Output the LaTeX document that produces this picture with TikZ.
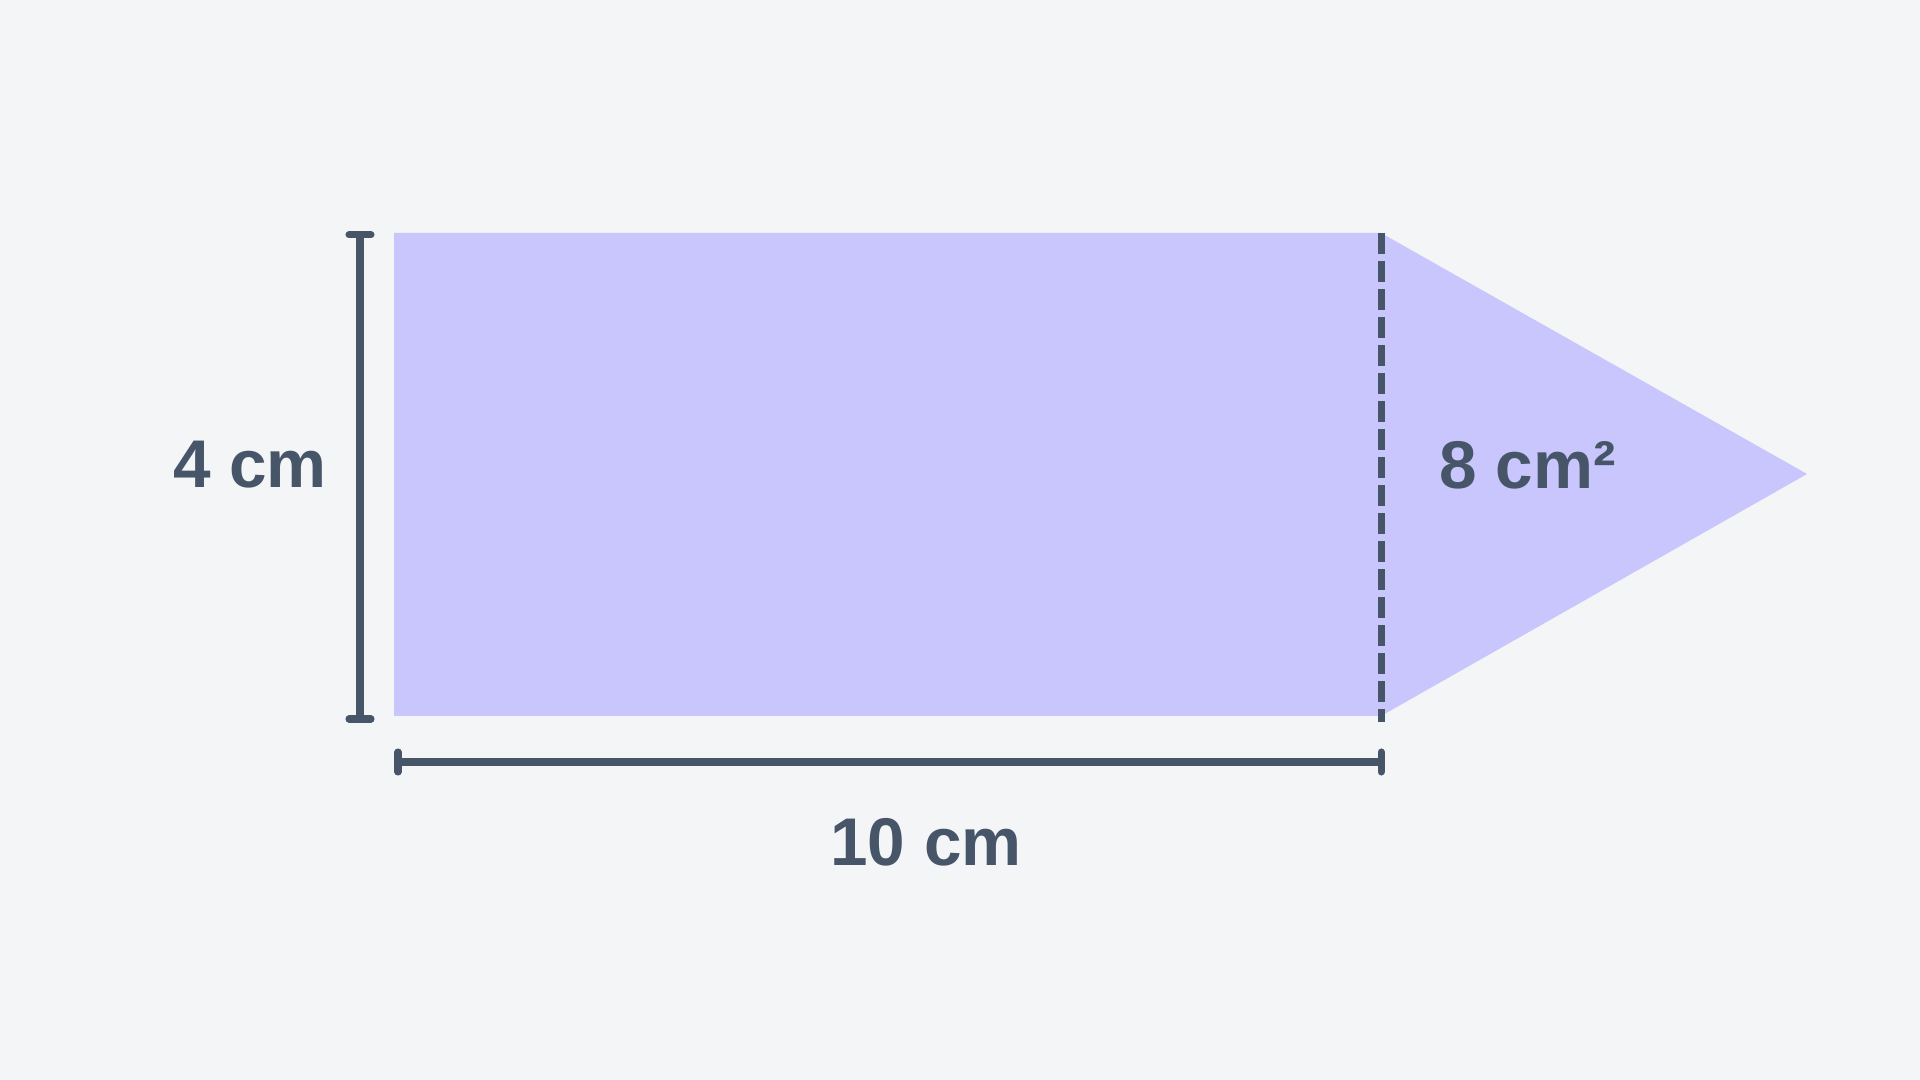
\documentclass[tikz,border=0pt]{standalone}
\usepackage{fontspec}
\setmainfont{Liberation Sans}
\usepackage{tikz}
\definecolor{paleback}{HTML}{F3F5F7}
\definecolor{lavender}{HTML}{C8C6FC}
\definecolor{slatedark}{HTML}{475569}
\tikzset{
    dimline/.style={slatedark,line width=2pt,line cap=round},
    dimlabel/.style={text=slatedark,font=\fontsize{19.2}{23}\selectfont\bfseries,inner sep=0pt}
}

\begin{document}
\begin{tikzpicture}
        \fill[paleback] (0,0) rectangle (19.2,10.8);
        \useasboundingbox (0,0) rectangle (19.2,10.8);

        % corners of the shape
        \coordinate (tl) at (3.94,8.47);
        \coordinate (bl) at (3.94,3.64);
        \coordinate (tr) at (13.81,8.47);
        \coordinate (br) at (13.81,3.64);
        \coordinate (tip) at (18.07,6.06);

        \fill[lavender] (tl) -- (tr) -- (tip) -- (br) -- (bl) -- cycle;
        \draw[slatedark,line width=2pt,dash pattern=on 0.21cm off 0.07cm] (tr) -- (13.81,3.58);

        % height
        \coordinate (vt) at (3.60,8.45);
        \coordinate (vb) at (3.60,3.61);
        \draw[dimline] (vt) -- (vb);
        \draw[dimline] ([xshift=-0.11cm]vt) -- ([xshift=0.11cm]vt);
        \draw[dimline] ([xshift=-0.11cm]vb) -- ([xshift=0.11cm]vb);

        % width
        \coordinate (hl) at (3.98,3.18);
        \coordinate (hr) at (13.81,3.18);
        \draw[dimline] (hl) -- (hr);
        \draw[dimline] ([yshift=-0.10cm]hl) -- ([yshift=0.10cm]hl);
        \draw[dimline] ([yshift=-0.10cm]hr) -- ([yshift=0.10cm]hr);

        \node[dimlabel] (height) at (2.50,6.15) {4 cm};
        \node[dimlabel,anchor=west] (area) at (14.39,6.15) {8 cm²};
        \node[dimlabel] (width) at (9.26,2.38) {10 cm};
\end{tikzpicture}
\end{document}
